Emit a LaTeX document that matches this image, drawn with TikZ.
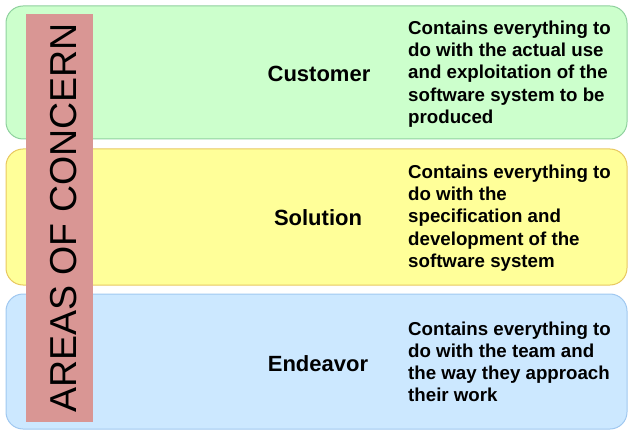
\documentclass[tikz,border=0pt]{standalone}
\usepackage{fontspec}
\setmainfont{Liberation Sans}
\definecolor{gfill}{HTML}{CCFFCC}
\definecolor{gline}{HTML}{8FD19E}
\definecolor{yfill}{HTML}{FFFF99}
\definecolor{yline}{HTML}{E8C860}
\definecolor{bfill}{HTML}{CCE8FF}
\definecolor{bline}{HTML}{A0C8F0}
\definecolor{barfill}{HTML}{D99694}
\begin{document}
\begin{tikzpicture}[x=1pt,y=-1pt,
  area/.style={draw=#1, line width=1pt, rounded corners=17pt, minimum width=621pt, inner sep=0pt, outer sep=0pt},
  areaname/.style={font=\fontsize{22}{25}\selectfont\bfseries, inner sep=0pt},
  desc/.style={font=\fontsize{18.7}{22.2}\selectfont\bfseries, align=left, anchor=west, inner sep=0pt}]
\useasboundingbox (0,0) rectangle (628,430);
\node[area=gline, fill=gfill, minimum height=133pt] (cust) at (316.5,72.5) {};
\node[area=yline, fill=yfill, minimum height=136pt] (sol) at (316.5,217) {};
\node[area=bline, fill=bfill, minimum height=135pt] (end) at (316.5,361.5) {};
\node[fill=barfill, minimum width=67pt, minimum height=408pt, inner sep=0pt, outer sep=0pt] (bar) at (59.5,218) {};
\node[rotate=90, font=\fontsize{37.5}{40}\selectfont, inner sep=0pt] (title) at (bar.center) [yshift=-4pt] {AREAS OF CONCERN};
\node[areaname] (custname) at (319,74) {Customer};
\node[areaname] (solname) at (318,218) {Solution};
\node[areaname] (endname) at (318,364) {Endeavor};
\node[desc] (custdesc) at (408,74) {Contains everything to\\do with the actual use\\and exploitation of the\\software system to be\\produced};
\node[desc] (soldesc) at (408,218) {Contains everything to\\do with the\\specification and\\development of the\\software system};
\node[desc] (enddesc) at (408,362) {Contains everything to\\do with the team and\\the way they approach\\their work};
\end{tikzpicture}
\end{document}
